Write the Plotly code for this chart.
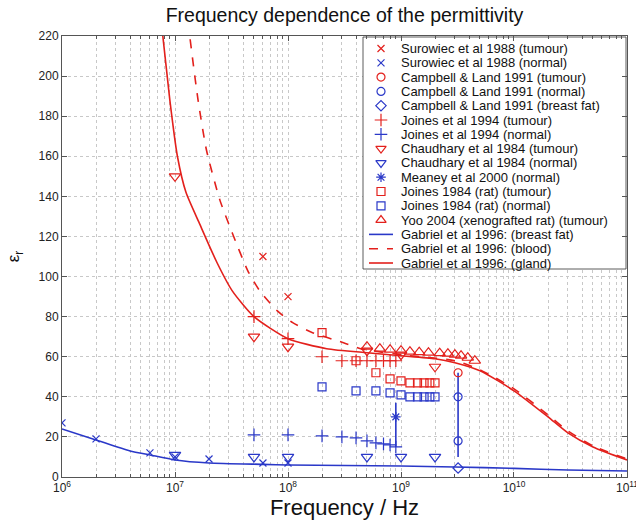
import plotly.graph_objects as go

# ---------------- data ----------------
surowiec_tumour_f = [6e7, 1e8]
surowiec_tumour_eps = [110, 90]
surowiec_normal_f = [1e6, 2e6, 6e6, 1e7, 2e7, 6e7, 1e8]
surowiec_normal_eps = [27, 19, 12, 10, 9, 7, 7]

campbell_tumour_f = [3.2e9]
campbell_tumour_eps = [52]
campbell_normal_f = [3.2e9, 3.2e9]
campbell_normal_eps = [40, 18]
campbell_fat_f = [3.2e9]
campbell_fat_eps = [4.5]
campbell_range_f = [3.2e9, 3.2e9]
campbell_range_eps = [52, 10]

joines94_tumour_f = [5e7, 1e8, 2e8, 3e8, 4e8, 5e8, 6e8, 7e8, 8e8, 9e8]
joines94_tumour_eps = [80, 69, 60, 58, 58, 58, 58, 58, 58, 58]
joines94_normal_f = [5e7, 1e8, 2e8, 3e8, 4e8, 5e8, 6e8, 7e8, 8e8, 9e8]
joines94_normal_eps = [21, 21, 20.5, 20, 19.5, 18, 17, 16.5, 16, 15]

chaudhary_tumour_f = [1e7, 5e7, 1e8, 5e8, 1e9, 2e9]
chaudhary_tumour_eps = [150, 70, 65, 63, 61, 55]
chaudhary_normal_f = [1e7, 5e7, 1e8, 5e8, 1e9, 2e9]
chaudhary_normal_eps = [11, 10, 10, 10, 10, 10]

meaney_f = [9e8]
meaney_eps = [30]
meaney_err_plus = [7]
meaney_err_minus = [15]

joines84_tumour_f = [2e8, 4e8, 6e8, 8e8, 1e9, 1.2e9, 1.4e9, 1.6e9, 1.8e9, 2e9]
joines84_tumour_eps = [72, 58, 52, 49, 48, 47, 47, 47, 47, 47]
joines84_normal_f = [2e8, 4e8, 6e8, 8e8, 1e9, 1.2e9, 1.4e9, 1.6e9, 1.8e9, 2e9]
joines84_normal_eps = [45, 43, 43, 42, 41, 40, 40, 40, 40, 40]

yoo_f = [5e8, 6.5e8, 8e8, 1e9, 1.2e9, 1.45e9, 1.75e9, 2.2e9, 2.6e9, 3e9, 3.4e9, 3.9e9, 4.5e9]
yoo_eps = [65, 64, 63.5, 63, 62.5, 62.3, 62, 61.8, 61.5, 61, 60.5, 59.5, 58]

gabriel_fat_f = [1e6, 2e6, 4e6, 6e6, 1e7, 2e7, 6e7, 1e8, 1e9, 3e9, 1e10, 3e10, 1e11]
gabriel_fat_eps = [24, 18.5, 13, 11, 8.5, 7, 6.3, 6, 5.5, 5, 4.3, 3.5, 3]

gabriel_blood_f = [1.2e7, 1.35e7, 1.6e7, 1.9e7, 2.5e7, 3.2e7, 4.4e7, 5.6e7, 8e7, 1.1e8, 1.65e8,
                   3.1e8, 4.4e8, 1e9, 3e9, 5e9, 1e10, 2e10, 3e10, 5e10, 1e11]
gabriel_blood_eps = [245, 220, 188, 163, 138, 122, 103, 93, 83, 77, 72,
                     67, 64, 61, 58, 53.5, 44, 31, 23, 15.5, 9]

gabriel_gland_f = [7e6, 7.8e6, 9e6, 1.05e7, 1.25e7, 1.66e7, 2.35e7, 3.2e7, 5e7, 1e8, 2.2e8, 5e8,
                   1e9, 2e9, 3e9, 5e9, 1e10, 2e10, 3e10, 5e10, 1e11]
gabriel_gland_eps = [240, 220, 188, 160, 142, 126, 107, 93, 80, 69, 64, 62,
                     60.5, 59, 57, 53, 43, 30, 22, 15, 8.5]

x_tick_vals = [1e6, 1e7, 1e8, 1e9, 1e10, 1e11]
x_tick_text = ["10<sup>6</sup>", "10<sup>7</sup>", "10<sup>8</sup>",
               "10<sup>9</sup>", "10<sup>10</sup>", "10<sup>11</sup>"]
y_tick_vals = list(range(0, 221, 20))

legend_labels = [
    "Surowiec et al 1988 (tumour)",
    "Surowiec et al 1988 (normal)",
    "Campbell & Land 1991 (tumour)",
    "Campbell & Land 1991 (normal)",
    "Campbell & Land 1991 (breast fat)",
    "Joines et al 1994 (tumour)",
    "Joines et al 1994 (normal)",
    "Chaudhary et al 1984 (tumour)",
    "Chaudhary et al 1984 (normal)",
    "Meaney et al 2000 (normal)",
    "Joines 1984 (rat) (tumour)",
    "Joines 1984 (rat) (normal)",
    "Yoo 2004 (xenografted rat) (tumour)",
    "Gabriel et al 1996: (breast fat)",
    "Gabriel et al 1996: (blood)",
    "Gabriel et al 1996: (gland)",
]

# ---------------- styles ----------------
RED = "#e3201c"
BLUE = "#2a38c8"
FONT = "Liberation Sans, Arial, Helvetica, sans-serif"

W, H = 636, 522
ML, MR, MT, MB = 62, 9, 36, 45
PW, PH = W - ML - MR, H - MT - MB

fig = go.Figure()

def pts(x, y, color, symbol, size=8, **kw):
    fig.add_trace(go.Scatter(
        x=x, y=y, mode="markers", showlegend=False,
        marker=dict(symbol=symbol, size=size, color=color,
                    line=dict(color=color, width=1.2)), **kw))

# curves
fig.add_trace(go.Scatter(x=gabriel_fat_f, y=gabriel_fat_eps, mode="lines",
                         line=dict(color=BLUE, width=1.6, shape="spline", smoothing=0.6),
                         showlegend=False))
fig.add_trace(go.Scatter(x=gabriel_blood_f, y=gabriel_blood_eps, mode="lines",
                         line=dict(color=RED, width=1.6, dash="dash", shape="spline", smoothing=0.6),
                         showlegend=False))
fig.add_trace(go.Scatter(x=gabriel_gland_f, y=gabriel_gland_eps, mode="lines",
                         line=dict(color=RED, width=1.6, shape="spline", smoothing=0.6),
                         showlegend=False))

# Campbell range line
fig.add_trace(go.Scatter(x=campbell_range_f, y=campbell_range_eps, mode="lines",
                         line=dict(color=BLUE, width=1.6), showlegend=False))

pts(surowiec_tumour_f, surowiec_tumour_eps, RED, "x-thin-open", 7)
pts(surowiec_normal_f, surowiec_normal_eps, BLUE, "x-thin-open", 7)
pts(campbell_tumour_f, campbell_tumour_eps, RED, "circle-open", 8)
pts(campbell_normal_f, campbell_normal_eps, BLUE, "circle-open", 8)
pts(campbell_fat_f, campbell_fat_eps, BLUE, "diamond-open", 8)
pts(joines94_tumour_f, joines94_tumour_eps, RED, "cross-thin-open", 9)
pts(joines94_normal_f, joines94_normal_eps, BLUE, "cross-thin-open", 9)
pts(chaudhary_tumour_f, chaudhary_tumour_eps, RED, "triangle-down-open", 10)
pts(chaudhary_normal_f, chaudhary_normal_eps, BLUE, "triangle-down-open", 10)
pts(meaney_f, meaney_eps, BLUE, "asterisk-open", 8,
    error_y=dict(type="data", symmetric=False, array=meaney_err_plus,
                 arrayminus=meaney_err_minus, color=BLUE, thickness=1.6, width=0))
pts(joines84_tumour_f, joines84_tumour_eps, RED, "square-open", 8)
pts(joines84_normal_f, joines84_normal_eps, BLUE, "square-open", 8)
pts(yoo_f, yoo_eps, RED, "triangle-up-open", 10)

# ---------------- hand-built legend (compact, like the original) ----------------
leg_left, leg_right, leg_top, leg_bottom = 363, 626, 37, 269   # pixel layout
row0, row_step = 48.5, 14.3
sym_x, txt_x = 381, 399

def xf(px):
    return (px - ML) / PW

def yf(py):
    return (MT + PH - py) / PH

# white legend box (drawn on the overlay axes so it covers the grid)
fig.add_trace(go.Scatter(
    x=[xf(leg_left), xf(leg_right), xf(leg_right), xf(leg_left), xf(leg_left)],
    y=[yf(leg_bottom), yf(leg_bottom), yf(leg_top), yf(leg_top), yf(leg_bottom)],
    xaxis="x2", yaxis="y2", mode="lines", fill="toself", fillcolor="white",
    line=dict(color="#333", width=0.8), showlegend=False, hoverinfo="skip"))

leg_styles = [
    (RED, "x-thin-open", 7), (BLUE, "x-thin-open", 7),
    (RED, "circle-open", 8), (BLUE, "circle-open", 8), (BLUE, "diamond-open", 8),
    (RED, "cross-thin-open", 9), (BLUE, "cross-thin-open", 9),
    (RED, "triangle-down-open", 9), (BLUE, "triangle-down-open", 9),
    (BLUE, "asterisk-open", 8),
    (RED, "square-open", 8), (BLUE, "square-open", 8),
    (RED, "triangle-up-open", 9),
]
line_styles = [(BLUE, "solid"), (RED, "dash"), (RED, "solid")]

for i, label in enumerate(legend_labels):
    py = row0 + i * row_step
    fig.add_annotation(xref="paper", yref="paper", x=xf(txt_x), y=yf(py),
                       text=label, showarrow=False, xanchor="left", yanchor="middle",
                       font=dict(family=FONT, size=13, color="#111"))
    if i < len(leg_styles):
        c, s, sz = leg_styles[i]
        fig.add_trace(go.Scatter(x=[xf(sym_x)], y=[yf(py)], xaxis="x2", yaxis="y2",
                                 mode="markers", showlegend=False, hoverinfo="skip",
                                 marker=dict(symbol=s, size=sz, color=c,
                                             line=dict(color=c, width=1.2))))
    else:
        c, d = line_styles[i - len(leg_styles)]
        fig.add_trace(go.Scatter(x=[xf(sym_x - 12), xf(sym_x + 12)], y=[yf(py), yf(py)],
                                 xaxis="x2", yaxis="y2", mode="lines", showlegend=False,
                                 hoverinfo="skip", line=dict(color=c, width=1.6, dash=d)))

grid_col = "#c8c8c8"
fig.update_layout(
    width=W, height=H,
    margin=dict(l=ML, r=MR, t=MT, b=MB, autoexpand=False),
    paper_bgcolor="white", plot_bgcolor="white",
    font=dict(family=FONT, size=12, color="#222"),
    showlegend=False,
    title=dict(text="Frequency dependence of the permittivity", x=0.5, xref="paper",
               xanchor="center", y=1 - 15 / H, yref="container", yanchor="middle",
               font=dict(family=FONT, size=19.5, color="#111")),
    xaxis=dict(type="log", range=[5.9999, 11.0001], tickvals=x_tick_vals, ticktext=x_tick_text,
               ticklabeloverflow="allow",
               showline=True, linecolor="#555", linewidth=1, mirror="allticks",
               ticks="inside", ticklen=5, tickcolor="#555",
               showgrid=True, gridcolor=grid_col, griddash="dot", gridwidth=1,
               minor=dict(dtick="D1", showgrid=True, gridcolor=grid_col, griddash="dot",
                          ticks="inside", ticklen=3, tickcolor="#555"),
               tickfont=dict(size=12, color="#222"),
               title=dict(text="Frequency / Hz", standoff=4,
                          font=dict(family=FONT, size=22, color="#111")),
               zeroline=False),
    yaxis=dict(range=[0, 220], tickvals=y_tick_vals,
               showline=True, linecolor="#555", linewidth=1, mirror="allticks",
               ticks="inside", ticklen=5, tickcolor="#555",
               showgrid=True, gridcolor=grid_col, griddash="dot", gridwidth=1,
               tickfont=dict(size=12, color="#222"),
               title=dict(text="ε<sub>r</sub>", standoff=14,
                          font=dict(family=FONT, size=17, color="#111")),
               zeroline=False),
    xaxis2=dict(overlaying="x", range=[0, 1], visible=False, fixedrange=True),
    yaxis2=dict(overlaying="y", range=[0, 1], visible=False, fixedrange=True),
)

fig.write_html("out.html")
